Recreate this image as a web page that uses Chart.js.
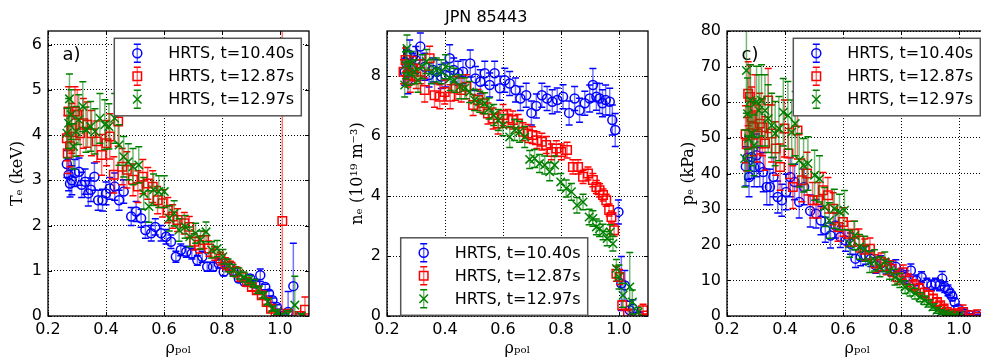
<!DOCTYPE html>
<html><head><meta charset="utf-8">
<script src="https://cdn.jsdelivr.net/npm/chart.js@4.4.0/dist/chart.umd.min.js"></script>
<style>
html,body{margin:0;padding:0;background:#fff;overflow:hidden;width:981px;height:364px;}
#wrap{position:relative;width:981px;height:364px;overflow:hidden;background:#fff;}
canvas{position:absolute;top:0;}
#sup{position:absolute;left:445px;top:9px;font:16px/16px 'DejaVu Sans';color:#000;white-space:nowrap;}
</style></head><body>
<div id="wrap">
<canvas id="ca" width="320" height="364" style="left:0px"></canvas>
<canvas id="cb" width="320" height="364" style="left:339px"></canvas>
<canvas id="cc" width="320" height="364" style="left:679px"></canvas>
<div id="sup">JPN 85443</div>
</div>
<script>
// ---------------- data ----------------
const supTitle = 'JPN 85443';
const legendLabels = ['HRTS, t=10.40s', 'HRTS, t=12.87s', 'HRTS, t=12.97s'];
const panelLetters = ['a)', 'b)', 'c)'];
const yTitles = ['Tₑ (keV)', 'nₑ (10¹⁹ m⁻³)', 'pₑ (kPa)'];
const xTitle = 'ρₚₒₗ';
const xTicks = [0.2, 0.4, 0.6, 0.8, 1.0];
const teTicks = [0, 1, 2, 3, 4, 5, 6];
const neTicks = [0, 2, 4, 6, 8];
const peTicks = [0, 10, 20, 30, 40, 50, 60, 70, 80];

// Te (keV)
const teRho1040 = [0.265,0.271,0.276,0.282,0.293,0.307,0.316,0.328,0.339,0.348,0.360,0.373,0.388,0.400,0.413,0.430,0.445,0.461,0.487,0.504,0.521,0.536,0.556,0.570,0.590,0.607,0.624,0.641,0.658,0.677,0.696,0.715,0.732,0.749,0.769,0.789,0.806,0.823,0.840,0.858,0.878,0.897,0.915,0.932,0.949,0.962,0.974,0.989,1.006,1.028,1.046,1.070];
const teVal1040 = [3.36,3.12,2.93,3.00,3.16,3.19,2.90,2.97,2.71,2.79,3.08,2.56,2.56,2.71,2.82,2.86,2.56,2.75,2.20,2.31,2.16,1.90,1.83,1.97,1.83,1.75,1.64,1.31,1.46,1.42,1.38,1.23,1.31,1.09,1.09,1.16,0.98,1.09,0.98,0.83,0.75,0.83,0.72,0.90,0.64,0.50,0.35,0.20,0.05,0.09,0.66,0.00];
const teErr1040 = [0.30,0.35,0.30,0.32,0.30,0.30,0.28,0.28,0.28,0.26,0.30,0.22,0.24,0.25,0.24,0.30,0.22,0.26,0.20,0.22,0.20,0.18,0.17,0.18,0.17,0.16,0.15,0.12,0.13,0.12,0.12,0.11,0.12,0.10,0.10,0.10,0.09,0.09,0.08,0.08,0.07,0.07,0.07,0.14,0.06,0.06,0.05,0.05,0.05,0.45,0.95,0.05];
const teRho1287 = [0.265,0.268,0.271,0.276,0.282,0.293,0.301,0.311,0.322,0.336,0.350,0.368,0.385,0.402,0.413,0.427,0.442,0.456,0.472,0.493,0.510,0.527,0.544,0.561,0.578,0.595,0.613,0.630,0.647,0.670,0.687,0.704,0.721,0.738,0.755,0.775,0.795,0.812,0.829,0.848,0.867,0.886,0.903,0.920,0.937,0.954,0.969,0.985,1.008,1.028,1.068,1.086];
const teVal1287 = [3.93,3.60,4.52,3.75,4.15,4.52,4.45,4.04,4.26,4.23,4.04,3.86,3.56,3.82,3.97,3.12,4.30,3.30,3.23,3.01,2.86,3.08,2.93,2.86,2.56,2.49,2.34,2.20,2.12,2.05,1.97,1.64,1.57,1.68,1.49,1.38,1.27,1.16,1.09,0.98,0.86,0.75,0.64,0.57,0.46,0.31,0.16,0.05,2.10,0.05,0.00,0.14];
const teErr1287 = [0.50,0.45,0.55,0.45,0.55,0.55,0.55,0.50,0.55,0.50,0.50,0.45,0.45,0.50,0.50,0.40,0.55,0.40,0.40,0.35,0.35,0.38,0.35,0.35,0.30,0.30,0.28,0.26,0.25,0.24,0.23,0.18,0.18,0.19,0.17,0.15,0.14,0.13,0.12,0.11,0.10,0.09,0.08,0.07,0.06,0.05,0.05,0.05,4.60,0.05,0.05,0.28];
const teRho1297 = [0.265,0.271,0.274,0.280,0.288,0.297,0.306,0.320,0.331,0.347,0.362,0.379,0.396,0.410,0.430,0.445,0.461,0.477,0.493,0.513,0.530,0.548,0.564,0.582,0.601,0.618,0.635,0.652,0.673,0.689,0.709,0.726,0.745,0.764,0.783,0.803,0.821,0.838,0.858,0.875,0.892,0.910,0.926,0.943,0.958,0.974,0.989,1.008,1.028,1.051,1.074];
const teVal1297 = [4.04,4.26,4.80,4.45,3.75,4.08,4.34,4.63,4.12,4.19,4.08,4.37,4.23,4.19,4.37,3.78,3.52,3.41,3.30,3.34,2.71,2.42,2.79,2.75,2.75,2.16,2.27,1.90,1.97,1.75,1.83,1.68,1.86,1.46,1.49,1.31,1.12,1.01,0.94,0.86,0.79,0.72,0.58,0.46,0.31,0.16,0.09,0.01,0.04,0.24,0.00];
const teErr1297 = [0.55,0.55,0.55,0.55,0.50,0.55,0.55,0.55,0.50,0.55,0.50,0.55,0.55,0.50,0.55,0.45,0.45,0.40,0.40,0.40,0.35,0.35,0.35,0.35,0.35,0.28,0.28,0.25,0.25,0.22,0.22,0.20,0.22,0.18,0.18,0.16,0.14,0.13,0.12,0.11,0.10,0.09,0.08,0.07,0.06,0.05,0.05,0.05,0.08,0.64,0.05];

// ne (1e19 m^-3)
const neRho1040 = [0.261,0.267,0.272,0.278,0.287,0.299,0.315,0.330,0.345,0.359,0.372,0.387,0.402,0.416,0.430,0.445,0.462,0.487,0.505,0.522,0.537,0.554,0.571,0.589,0.606,0.623,0.643,0.660,0.680,0.698,0.715,0.734,0.752,0.770,0.787,0.807,0.828,0.847,0.864,0.882,0.899,0.910,0.922,0.933,0.943,0.954,0.968,0.977,0.987,0.998,1.008,1.020,1.037,1.048,1.070];
const neVal1040 = [8.14,8.42,7.86,8.70,8.31,8.53,8.98,8.31,8.03,8.20,8.14,7.98,8.03,8.59,8.20,8.09,8.14,8.42,7.92,7.81,8.09,7.70,8.09,7.59,7.86,7.75,7.53,7.25,7.36,6.77,7.00,7.36,7.25,7.14,7.20,7.31,6.77,7.25,6.86,7.09,7.25,7.70,7.31,7.25,7.09,7.20,7.14,6.53,6.20,3.47,1.08,1.02,0.19,0.24,0.02];
const neErr1040 = [0.45,0.45,0.45,0.50,0.45,0.45,0.45,0.45,0.40,0.40,0.40,0.40,0.40,0.45,0.40,0.40,0.40,0.45,0.40,0.40,0.40,0.40,0.40,0.40,0.40,0.40,0.40,0.40,0.40,0.40,0.40,0.40,0.40,0.40,0.40,0.40,0.40,0.40,0.40,0.40,0.45,0.55,0.45,0.50,0.45,0.50,0.45,0.50,0.55,0.40,0.90,0.50,0.30,0.30,0.10];
const neRho1287 = [0.257,0.264,0.272,0.280,0.290,0.301,0.315,0.330,0.347,0.364,0.382,0.399,0.418,0.437,0.456,0.474,0.497,0.514,0.531,0.548,0.566,0.583,0.600,0.617,0.634,0.652,0.669,0.686,0.701,0.717,0.734,0.749,0.767,0.784,0.801,0.821,0.841,0.859,0.876,0.893,0.910,0.922,0.933,0.945,0.956,0.966,0.974,0.983,0.991,1.002,1.011,1.031,1.083,1.094];
const neVal1287 = [8.14,8.53,8.03,7.86,8.25,7.98,8.14,7.53,8.59,7.36,7.31,7.47,7.31,7.59,7.53,7.64,7.03,7.20,7.09,6.75,6.58,6.42,6.70,6.58,6.53,6.42,6.14,6.08,6.03,5.86,5.81,5.70,5.47,5.58,5.47,5.53,4.97,4.97,4.64,4.75,4.53,4.30,4.19,4.03,3.86,3.53,3.30,2.86,1.41,1.30,0.36,0.08,0.19,0.02];
const neErr1287 = [0.40,0.40,0.40,0.40,0.40,0.40,0.40,0.40,0.40,0.40,0.40,0.40,0.40,0.40,0.40,0.40,0.35,0.35,0.35,0.35,0.35,0.35,0.35,0.30,0.30,0.30,0.30,0.30,0.28,0.28,0.28,0.28,0.26,0.26,0.26,0.26,0.24,0.24,0.22,0.22,0.22,0.22,0.22,0.20,0.20,0.20,0.20,0.20,0.25,0.25,0.15,0.10,0.20,0.05];
const neRho1297 = [0.261,0.264,0.269,0.276,0.284,0.295,0.307,0.322,0.336,0.353,0.370,0.387,0.402,0.418,0.433,0.451,0.468,0.485,0.502,0.520,0.537,0.552,0.568,0.584,0.600,0.623,0.640,0.657,0.675,0.692,0.709,0.726,0.744,0.761,0.778,0.799,0.818,0.836,0.855,0.876,0.897,0.910,0.922,0.933,0.945,0.959,0.970,0.979,0.991,1.000,1.014,1.037,1.046,1.066];
const neVal1297 = [7.70,8.36,8.92,8.09,8.42,8.14,7.86,8.31,8.48,8.14,8.20,8.14,8.31,7.92,7.86,7.64,7.59,7.47,7.20,7.14,7.09,6.92,6.70,6.53,6.36,5.97,6.20,6.14,5.97,5.22,5.25,5.08,5.03,4.81,5.03,4.47,4.25,4.14,3.69,3.80,3.30,3.25,2.97,2.91,2.80,2.58,2.80,2.41,1.58,1.30,0.69,0.97,0.47,0.13];
const neErr1297 = [0.40,0.45,0.45,0.40,0.40,0.40,0.40,0.40,0.40,0.40,0.40,0.40,0.40,0.40,0.40,0.40,0.35,0.35,0.35,0.35,0.35,0.35,0.35,0.35,0.35,0.35,0.35,0.35,0.35,0.30,0.30,0.30,0.30,0.30,0.30,0.28,0.28,0.28,0.26,0.26,0.26,0.26,0.26,0.26,0.26,0.24,0.24,0.24,0.30,0.40,0.40,1.15,0.40,0.15];

// pe (kPa)
const peRho1040 = [0.265,0.271,0.276,0.285,0.294,0.302,0.313,0.325,0.337,0.348,0.360,0.375,0.389,0.404,0.418,0.433,0.449,0.466,0.487,0.507,0.524,0.539,0.557,0.574,0.591,0.609,0.626,0.643,0.661,0.678,0.696,0.713,0.730,0.748,0.765,0.782,0.800,0.817,0.834,0.852,0.871,0.889,0.905,0.919,0.933,0.942,0.951,0.962,0.970,0.977,0.985,0.997,1.008,1.020,1.037,1.060];
const peVal1040 = [42.0,44.4,39.0,44.6,41.8,45.1,41.8,40.4,36.2,36.2,39.0,33.4,32.5,34.8,39.0,37.6,32.0,36.2,29.5,28.7,26.8,24.2,22.6,25.4,22.2,21.2,20.3,16.1,16.6,17.0,16.1,14.2,14.7,13.8,13.3,13.8,11.4,10.9,12.8,10.0,10.9,9.1,8.6,9.1,8.6,10.5,8.1,7.2,6.3,5.5,3.9,2.1,1.1,0.7,0.2,0.2];
const peErr1040 = [5.5,6.0,5.5,6.0,5.5,6.0,5.5,5.5,5.0,5.0,5.5,4.5,4.5,5.0,5.5,5.0,4.5,5.0,4.5,4.0,4.0,3.5,3.5,3.5,3.0,3.0,3.0,2.5,2.5,2.5,2.2,2.2,2.2,2.0,2.0,2.0,1.8,1.8,1.8,1.5,1.5,1.5,1.5,1.5,1.5,2.0,1.5,1.5,1.2,1.2,1.0,0.8,0.6,0.5,0.4,0.3];
const peRho1287 = [0.264,0.268,0.273,0.279,0.285,0.290,0.296,0.305,0.313,0.322,0.331,0.342,0.354,0.368,0.383,0.398,0.412,0.427,0.443,0.458,0.476,0.495,0.514,0.531,0.548,0.566,0.583,0.600,0.618,0.638,0.655,0.675,0.693,0.713,0.731,0.750,0.768,0.788,0.808,0.826,0.846,0.863,0.881,0.896,0.910,0.924,0.935,0.947,0.958,0.970,0.981,0.997,1.014,1.037,1.066];
const peVal1287 = [51.0,48.2,62.4,61.5,55.8,53.0,58.7,51.2,54.0,53.0,48.4,60.5,51.2,47.0,41.8,52.6,45.6,36.2,52.1,38.1,40.0,32.5,32.5,35.3,33.9,30.1,25.0,26.4,23.1,23.1,21.2,18.6,18.9,14.7,15.2,13.8,13.3,10.9,12.3,10.0,8.6,7.7,6.5,5.8,4.9,3.9,3.0,2.1,1.1,0.7,0.5,0.8,1.1,0.2,0.5];
const peErr1287 = [8.0,7.5,9.0,9.0,8.5,8.0,9.0,8.0,8.5,8.0,7.5,9.0,8.0,7.5,6.5,8.0,7.0,6.0,8.0,6.0,6.0,5.0,5.0,5.0,5.0,4.5,4.0,4.0,3.5,3.5,3.2,3.0,3.0,2.5,2.5,2.2,2.2,2.0,2.0,1.8,1.6,1.5,1.3,1.2,1.1,1.0,0.9,0.8,0.6,0.5,0.5,0.6,2.0,0.3,0.5];
const peRho1297 = [0.261,0.267,0.271,0.275,0.281,0.287,0.293,0.302,0.310,0.319,0.331,0.342,0.354,0.366,0.379,0.394,0.410,0.423,0.435,0.449,0.464,0.479,0.502,0.519,0.537,0.553,0.570,0.588,0.605,0.623,0.640,0.657,0.675,0.692,0.709,0.727,0.744,0.761,0.779,0.796,0.814,0.831,0.848,0.866,0.881,0.896,0.910,0.924,0.939,0.954,0.968,0.985,1.002];
const peVal1297 = [44.2,68.9,56.8,49.8,60.5,51.2,47.9,60.1,57.7,60.5,57.7,55.4,53.5,51.2,52.6,57.2,56.3,51.6,54.0,43.7,42.3,42.8,39.5,38.5,30.6,26.8,30.1,29.2,29.7,20.3,22.6,19.4,18.9,15.2,15.6,13.8,15.2,12.8,10.9,10.0,8.1,7.2,6.3,5.3,4.4,3.5,2.5,1.6,1.1,0.7,0.5,0.2,0.2];
const peErr1297 = [8.0,12.0,10.0,9.0,10.0,9.0,8.5,10.0,10.0,10.0,10.0,9.5,9.0,9.0,9.0,9.5,9.5,9.0,9.0,7.5,7.5,7.5,7.0,6.5,5.5,5.0,5.5,5.0,5.5,3.8,4.0,3.5,3.5,3.0,3.0,2.8,2.8,2.5,2.2,2.0,1.8,1.6,1.5,1.3,1.2,1.0,0.9,0.8,0.6,0.5,0.4,0.3,0.3];

// ---------------- styling ----------------
const seriesColors = ['#0000ff', '#ff0000', '#008000'];
const seriesStyles = ['circle', 'rect', 'crossRot'];
const seriesRadii = [4.5, 6, 6];
Chart.defaults.font.family = "'DejaVu Sans', sans-serif";
Chart.defaults.color = '#000';

function drawErr(ctx, x, y1, y2, color) {
  ctx.strokeStyle = color;
  ctx.lineWidth = 1.5;
  ctx.globalAlpha = 0.55;
  ctx.beginPath(); ctx.moveTo(x, y1); ctx.lineTo(x, y2); ctx.stroke();
  ctx.globalAlpha = 1;
  ctx.beginPath();
  ctx.moveTo(x - 3.5, y1); ctx.lineTo(x + 3.5, y1);
  ctx.moveTo(x - 3.5, y2); ctx.lineTo(x + 3.5, y2);
  ctx.stroke();
}

const errorBars = {
  id: 'errorBars',
  beforeDatasetDraw(chart, args) {
    const ds = chart.data.datasets[args.index];
    const ys = chart.scales.y, a = chart.chartArea, ctx = chart.ctx;
    ctx.save();
    ctx.beginPath(); ctx.rect(a.left, a.top, a.right - a.left, a.bottom - a.top); ctx.clip();
    ds.errors.forEach((e, i) => {
      const el = args.meta.data[i];
      const v = ds.data[i].y;
      drawErr(ctx, el.x, ys.getPixelForValue(v - e), ys.getPixelForValue(v + e), ds.borderColor);
    });
    ctx.restore();
  }
};

const panelLabel = {
  id: 'panelLabel',
  beforeDatasetsDraw(chart, args, opts) {
    const {ctx, chartArea: a} = chart;
    ctx.save();
    ctx.font = "18px 'DejaVu Sans'";
    ctx.fillStyle = '#000';
    ctx.textBaseline = 'alphabetic';
    ctx.fillText(opts.text, a.left + 14.5, a.top + 29);
    ctx.restore();
  }
};

const frameTicks = {
  id: 'frameTicks',
  afterDatasetsDraw(chart) {
    const {ctx, chartArea: a, scales: {x, y}} = chart;
    ctx.save();
    ctx.strokeStyle = '#000'; ctx.lineWidth = 1;
    ctx.beginPath();
    x.ticks.forEach(t => {
      const px = Math.round(x.getPixelForValue(t.value)) + 0.5;
      ctx.moveTo(px, a.bottom); ctx.lineTo(px, a.bottom - 4);
      ctx.moveTo(px, a.top); ctx.lineTo(px, a.top + 4);
    });
    y.ticks.forEach(t => {
      const py = Math.round(y.getPixelForValue(t.value)) + 0.5;
      ctx.moveTo(a.left, py); ctx.lineTo(a.left + 4, py);
      ctx.moveTo(a.right, py); ctx.lineTo(a.right - 4, py);
    });
    ctx.stroke();
    ctx.lineWidth = 1.3;
    ctx.strokeRect(a.left, a.top, a.right - a.left, a.bottom - a.top);
    ctx.restore();
  }
};

const boxLegend = {
  id: 'boxLegend',
  afterDraw(chart, args, opts) {
    const {ctx, chartArea: a} = chart;
    const w = 187, h = 77.5;
    let left, top;
    if (opts.corner === 'tr') { left = a.right - opts.dx - w; top = a.top + opts.dy; }
    else { left = a.left + opts.dx; top = a.bottom - opts.dy - h; }
    ctx.save();
    ctx.fillStyle = '#fff'; ctx.fillRect(left, top, w, h);
    ctx.strokeStyle = '#555'; ctx.lineWidth = 1.5; ctx.strokeRect(left, top, w, h);
    chart.data.datasets.forEach((ds, k) => {
      const cy = top + 15 + k * 23, cx = left + 23;
      drawErr(ctx, cx, cy - 9, cy + 9, ds.borderColor);
      ctx.strokeStyle = ds.borderColor; ctx.fillStyle = 'rgba(0,0,0,0)'; ctx.lineWidth = 1.5;
      Chart.helpers.drawPoint(ctx, {pointStyle: ds.pointStyle, radius: ds.pointRadius, borderWidth: 1.5, rotation: 0}, cx, cy);
      ctx.fillStyle = '#000'; ctx.font = "16px 'DejaVu Sans'"; ctx.textBaseline = 'middle'; ctx.textAlign = 'left';
      ctx.fillText(ds.label, left + 54, cy + 1);
    });
    ctx.restore();
  }
};

function makePanel(id, idx, rhos, vals, errs, yMax, yTicks, legendOpts, yTitlePad) {
  const datasets = [0, 1, 2].map(k => ({
    label: legendLabels[k],
    data: rhos[k].map((r, i) => ({x: r, y: vals[k][i]})),
    errors: errs[k],
    pointStyle: seriesStyles[k],
    pointRadius: seriesRadii[k],
    pointBorderWidth: 1.5,
    borderColor: seriesColors[k],
    pointBorderColor: seriesColors[k],
    backgroundColor: 'rgba(0,0,0,0)',
    pointBackgroundColor: 'rgba(0,0,0,0)',
    order: 2 - k,
    clip: 0
  }));
  return new Chart(document.getElementById(id), {
    type: 'scatter',
    data: {datasets},
    options: {
      responsive: false, animation: false, devicePixelRatio: 1,
      events: [],
      layout: {padding: {top: 31, right: 11, left: 0, bottom: 0}},
      plugins: {
        legend: {display: false}, tooltip: {enabled: false},
        panelLabel: {text: panelLetters[idx]},
        boxLegend: legendOpts
      },
      scales: {
        x: {
          type: 'linear', min: 0.2, max: 1.1,
          afterBuildTicks: s => { s.ticks = xTicks.map(v => ({value: v})); },
          afterFit: s => { s.height = 48; },
          ticks: {callback: v => v.toFixed(1), font: {size: 16}, color: '#000', padding: 4, maxRotation: 0, autoSkip: false},
          grid: {color: '#000', lineWidth: 1, drawTicks: false},
          border: {display: false, dash: [1, 2]},
          title: {display: true, text: xTitle, font: {family: "'DejaVu Serif', serif", size: 16}, color: '#000', padding: {top: 0, bottom: 6}}
        },
        y: {
          type: 'linear', min: 0, max: yMax,
          afterBuildTicks: s => { s.ticks = yTicks.map(v => ({value: v})); },
          afterFit: s => { s.width = 48; },
          ticks: {font: {size: 16}, color: '#000', padding: 6, autoSkip: false},
          grid: {color: '#000', lineWidth: 1, drawTicks: false},
          border: {display: false, dash: [1, 2]},
          title: {display: true, text: yTitles[idx], font: {family: "'DejaVu Serif', serif", size: 16}, color: '#000', padding: {top: yTitlePad, bottom: 0}}
        }
      }
    },
    plugins: [errorBars, panelLabel, frameTicks, boxLegend]
  });
}

makePanel('ca', 0, [teRho1040, teRho1287, teRho1297], [teVal1040, teVal1287, teVal1297], [teErr1040, teErr1287, teErr1297], 6.3, teTicks, {corner: 'tr', dx: 7.7, dy: 7.3}, 8.4);
makePanel('cb', 1, [neRho1040, neRho1287, neRho1297], [neVal1040, neVal1287, neVal1297], [neErr1040, neErr1287, neErr1297], 9.5, neTicks, {corner: 'bl', dx: 13.7, dy: 0.7}, 9.4);
makePanel('cc', 2, [peRho1040, peRho1287, peRho1297], [peVal1040, peVal1287, peVal1297], [peErr1040, peErr1287, peErr1297], 80, peTicks, {corner: 'tr', dx: 7.7, dy: 7.3}, 0);
document.getElementById('sup').textContent = supTitle;
</script>
</body></html>
